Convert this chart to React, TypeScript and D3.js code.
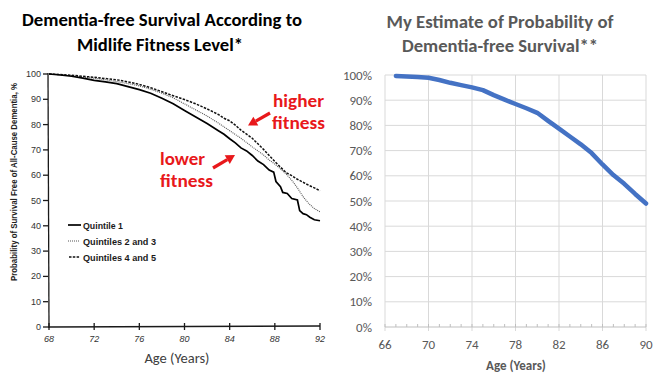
import React from "react";
import * as d3 from "d3";

// ---------- Left panel (scanned study figure) ----------
const leftXTicks = [68, 72, 76, 80, 84, 88, 92];
const leftYTicks = [0, 10, 20, 30, 40, 50, 60, 70, 80, 90, 100];

const q1Ages = [68, 69, 70, 71, 72, 73, 74, 75, 76, 77, 78, 79, 80, 81, 82, 83, 83.5, 84, 84.5, 85, 85.5, 86, 86.5, 87, 87.5, 87.9, 88.1, 88.5, 88.7, 89.1, 89.5, 90, 90.2, 90.5, 90.8, 91.1, 91.5, 92];
const q1Vals = [100, 99.6, 99.1, 98.4, 97.5, 96.9, 96.2, 95.0, 93.8, 92.4, 90.4, 88.2, 85.6, 83.0, 80.4, 77.6, 76.2, 74.4, 72.8, 70.8, 69.6, 67.8, 65.6, 64.2, 62.0, 61.2, 57.5, 55.5, 53.2, 52.8, 50.8, 50.2, 46.0, 44.8, 44.4, 43.4, 42.4, 42.0];

const q23Ages = [68, 69, 70, 71, 72, 73, 74, 75, 76, 77, 78, 79, 80, 81, 82, 83, 84, 85, 86, 87, 87.5, 88, 88.5, 89, 89.5, 90, 90.5, 91, 91.5, 92];
const q23Vals = [100, 99.7, 99.3, 98.8, 98.3, 97.7, 97.0, 96.2, 95.3, 94.0, 92.4, 90.6, 88.2, 85.8, 83.4, 80.6, 77.6, 74.6, 71.2, 68.0, 66.0, 64.4, 62.5, 60.5, 58.0, 55.0, 51.5, 48.8, 46.8, 45.5];

const q45Ages = [68, 69, 70, 71, 72, 73, 74, 75, 76, 77, 78, 79, 80, 81, 82, 83, 83.5, 84, 84.5, 85, 85.5, 86, 86.5, 87, 87.5, 88, 88.5, 89, 89.5, 90, 90.5, 91, 91.5, 92];
const q45Vals = [100, 99.8, 99.5, 99.1, 98.7, 98.2, 97.7, 96.9, 95.9, 94.6, 93.0, 91.4, 89.9, 88.2, 86.2, 84.0, 82.5, 81.5, 79.8, 77.8, 76.2, 74.6, 72.4, 70.2, 67.8, 65.4, 63.2, 61.0, 59.8, 58.4, 57.2, 56.0, 55.0, 53.8];

const legendLabels = ["Quintile 1", "Quintiles 2 and 3", "Quintiles 4 and 5"];

// ---------- Right panel (Excel estimate) ----------
const estAges = [67, 68, 69, 70, 71, 72, 73, 74, 75, 76, 77, 78, 79, 80, 81, 82, 83, 84, 85, 86, 87, 88, 89, 90];
const estVals = [0.996, 0.994, 0.992, 0.989, 0.980, 0.969, 0.960, 0.951, 0.940, 0.920, 0.902, 0.885, 0.868, 0.850, 0.818, 0.787, 0.756, 0.725, 0.690, 0.645, 0.603, 0.568, 0.528, 0.490];
const rightXTicks = [66, 70, 74, 78, 82, 86, 90];
const rightMinorTicks = d3.range(66, 91, 1);
const rightYTicks = [0, 0.1, 0.2, 0.3, 0.4, 0.5, 0.6, 0.7, 0.8, 0.9, 1.0];

const SANS = "Carlito, Lato, 'Liberation Sans', sans-serif";
const SCAN = "'Liberation Sans', Arial, sans-serif";
const RED = "#e8181b";
const GRAY = "#595959";

function Arrow({ x1, y1, x2, y2 }: { x1: number; y1: number; x2: number; y2: number }) {
  const ang = Math.atan2(y2 - y1, x2 - x1);
  const L = 9, W = 5;
  const bx = x2 - L * Math.cos(ang), by = y2 - L * Math.sin(ang);
  const px = -Math.sin(ang) * W, py = Math.cos(ang) * W;
  return (
    <g>
      <line x1={x1} y1={y1} x2={bx} y2={by} stroke={RED} strokeWidth={3.2} />
      <polygon points={`${x2},${y2} ${bx + px},${by + py} ${bx - px},${by - py}`} fill={RED} />
    </g>
  );
}

export default function App() {
  // left scales
  const lx = d3.scaleLinear().domain([68, 92]).range([49, 320]);
  const ly = d3.scaleLinear().domain([0, 100]).range([327, 74]);
  const kmLine = d3
    .line<[number, number]>()
    .x((d) => lx(d[0]))
    .y((d) => ly(d[1]))
    .curve(d3.curveLinear);
  const zip = (a: number[], b: number[]) => a.map((v, i) => [v, b[i]] as [number, number]);
  const q1 = zip(q1Ages, q1Vals);
  const q23 = zip(q23Ages, q23Vals);
  const q45 = zip(q45Ages, q45Vals);

  // right scales
  const rx = d3.scaleLinear().domain([66, 90]).range([385, 646]);
  const ry = d3.scaleLinear().domain([0, 1]).range([327, 75]);
  const estLine = d3
    .line<[number, number]>()
    .x((d) => rx(d[0]))
    .y((d) => ry(d[1]))
    .curve(d3.curveLinear);
  const est = zip(estAges, estVals);
  const pct = d3.format(".0%");

  return (
    <div style={{ position: "absolute", left: 0, top: 0 }}>
      <svg width={667} height={382} style={{ display: "block", background: "#fff" }}>
        {/* ===== Left title ===== */}
        <g fontFamily={SANS} fontWeight="bold" fontSize={17} fill="#000" textAnchor="middle">
          <text x={162} y={26} textLength={280} lengthAdjust="spacingAndGlyphs">Dementia-free Survival According to</text>
          <text x={160} y={51} textLength={166} lengthAdjust="spacingAndGlyphs">Midlife Fitness Level*</text>
        </g>

        {/* ===== Left axes ===== */}
        <g stroke="#1a1a1a" strokeWidth={1.3}>
          <line x1={48} y1={73} x2={49} y2={328} />
          <line x1={48} y1={327} x2={320} y2={326} />
          {leftYTicks.map((t) => (
            <line key={"ly" + t} x1={43} x2={48} y1={ly(t)} y2={ly(t)} />
          ))}
          {leftXTicks.map((t) => (
            <line key={"lx" + t} x1={lx(t)} x2={lx(t)} y1={323} y2={330} />
          ))}
        </g>
        <g fontFamily={SCAN} fontSize={9} fill="#333" textAnchor="end">
          {leftYTicks.map((t) => (
            <text key={"lyt" + t} x={41} y={ly(t) + 3}>{t}</text>
          ))}
        </g>
        <g fontFamily={SCAN} fontSize={9} fontStyle="italic" fill="#333" textAnchor="middle">
          {leftXTicks.map((t) => (
            <text key={"lxt" + t} x={lx(t)} y={342}>{t}</text>
          ))}
        </g>
        <text
          transform="translate(17,182) rotate(-90)"
          fontFamily={SCAN}
          fontWeight="bold"
          fontSize={9.5}
          fill="#222"
          textAnchor="middle"
          textLength={198}
          lengthAdjust="spacingAndGlyphs"
        >
          Probability of Survival Free of All-Cause Dementia, %
        </text>
        <text x={177} y={363} fontFamily={SANS} fontSize={14.5} fill="#404040" textAnchor="middle">
          Age (Years)
        </text>

        {/* ===== Left curves ===== */}
        <path d={kmLine(q23) || ""} fill="none" stroke="#555" strokeWidth={1.1} strokeDasharray="1,1" />
        <path d={kmLine(q45) || ""} fill="none" stroke="#111" strokeWidth={1.5} strokeDasharray="2.5,1.3" />
        <path d={kmLine(q1) || ""} fill="none" stroke="#000" strokeWidth={1.7} strokeLinejoin="miter" />

        {/* ===== Left legend ===== */}
        <g>
          <line x1={68} x2={81} y1={225} y2={225} stroke="#000" strokeWidth={1.7} />
          <line x1={68} x2={80} y1={241} y2={241} stroke="#555" strokeWidth={1.1} strokeDasharray="1,1" />
          <line x1={69} x2={80} y1={257} y2={257} stroke="#111" strokeWidth={1.4} strokeDasharray="2.5,1.3" />
          <g fontFamily={SCAN} fontWeight="bold" fontSize={9.5} fill="#1a1a1a">
            <text x={83} y={228.5} textLength={40} lengthAdjust="spacingAndGlyphs">{legendLabels[0]}</text>
            <text x={83} y={244.5} textLength={73} lengthAdjust="spacingAndGlyphs">{legendLabels[1]}</text>
            <text x={83} y={260.5} textLength={73} lengthAdjust="spacingAndGlyphs">{legendLabels[2]}</text>
          </g>
        </g>

        {/* ===== Red annotations ===== */}
        <g fontFamily={SANS} fontWeight="bold" fontSize={17} fill={RED}>
          <text x={273} y={107} textLength={51} lengthAdjust="spacingAndGlyphs">higher</text>
          <text x={272} y={128.5} textLength={53} lengthAdjust="spacingAndGlyphs">fitness</text>
          <text x={160} y={165} textLength={45} lengthAdjust="spacingAndGlyphs">lower</text>
          <text x={160} y={186.5} textLength={53} lengthAdjust="spacingAndGlyphs">fitness</text>
        </g>
        <Arrow x1={270} y1={113} x2={248} y2={125.5} />
        <Arrow x1={213} y1={168} x2={235} y2={155} />

        {/* ===== Right title ===== */}
        <g fontFamily={SANS} fontWeight="bold" fontSize={17.5} fill={GRAY} textAnchor="middle">
          <text x={500} y={28} textLength={227} lengthAdjust="spacingAndGlyphs">My Estimate of Probability of</text>
          <text x={500} y={52} textLength={196} lengthAdjust="spacingAndGlyphs">Dementia-free Survival**</text>
        </g>

        {/* ===== Right grid ===== */}
        <g stroke="#d9d9d9" strokeWidth={1}>
          {rightYTicks.slice(1).map((t) => (
            <line key={"rgy" + t} x1={rx(66)} x2={rx(90)} y1={ry(t)} y2={ry(t)} />
          ))}
          {rightXTicks.map((t) => (
            <line key={"rgx" + t} x1={rx(t)} x2={rx(t)} y1={ry(1)} y2={ry(0) + 4} />
          ))}
        </g>
        <g stroke="#bfbfbf" strokeWidth={1}>
          <line x1={rx(66)} x2={rx(90)} y1={ry(0)} y2={ry(0)} />
          {rightMinorTicks.map((t) => (
            <line key={"rmt" + t} x1={rx(t)} x2={rx(t)} y1={ry(0) - 3} y2={ry(0)} />
          ))}
        </g>
        <g fontFamily={SANS} fontSize={13} fill={GRAY} textAnchor="end">
          {rightYTicks.map((t) => (
            <text key={"ryt" + t} x={372} y={ry(t) + 4.5}>{pct(t)}</text>
          ))}
        </g>
        <g fontFamily={SANS} fontSize={13} fill={GRAY} textAnchor="middle">
          {rightXTicks.map((t) => (
            <text key={"rxt" + t} x={rx(t)} y={349}>{t}</text>
          ))}
        </g>
        <text x={516} y={370} fontFamily={SANS} fontWeight="bold" fontSize={13} fill={GRAY} textAnchor="middle">
          Age (Years)
        </text>

        {/* ===== Right line ===== */}
        <path d={estLine(est) || ""} fill="none" stroke="#4472c4" strokeWidth={4.5} strokeLinejoin="round" strokeLinecap="round" />
      </svg>
    </div>
  );
}
